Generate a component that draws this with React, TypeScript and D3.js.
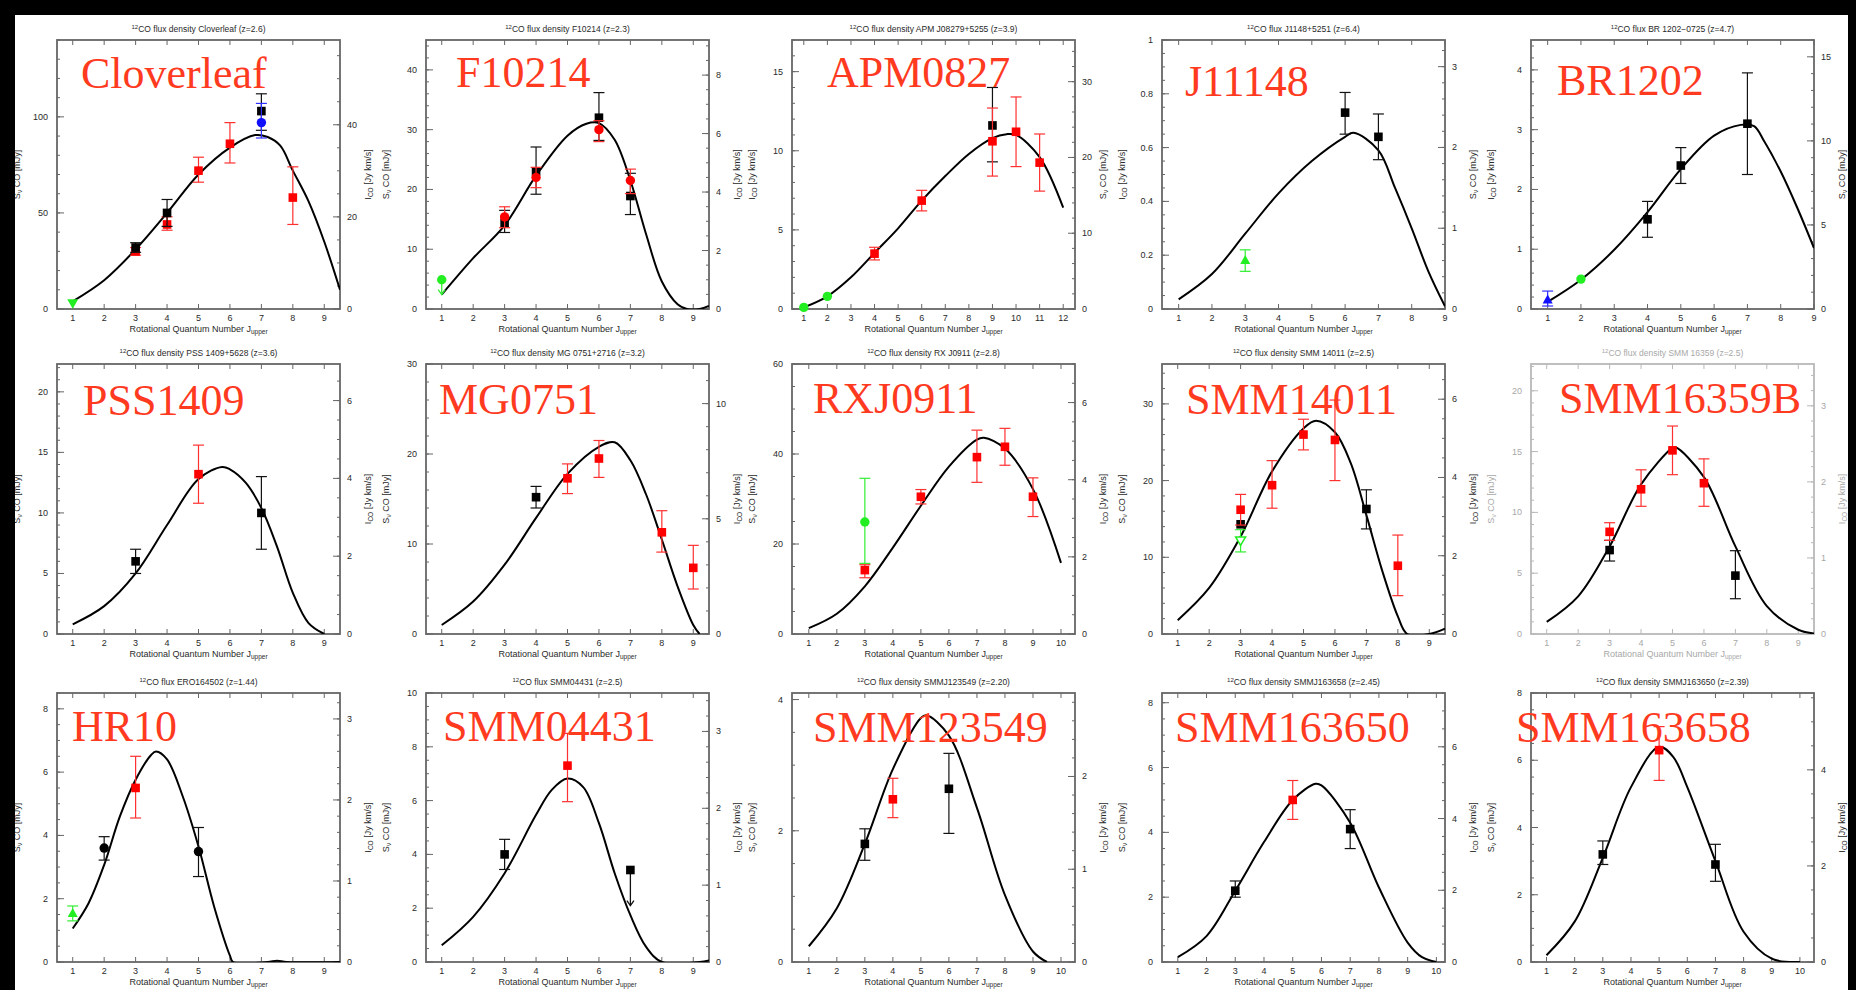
import React, { useEffect } from 'react';
import * as d3 from 'd3';

type Pt = number[]; // [J, value, lo, hi]

// ---------------- data ----------------
// 1 Cloverleaf
const cloverleafModel: Pt[] = [[1,4],[2,15],[3,31],[4,50],[5,70],[6,84],[6.8,90.5],[7.2,89.5],[7.6,85],[8,72],[8.5,56],[9,35],[9.5,10]];
const cloverleafRed: Pt[] = [[3,30,28,32],[4,44,41,48],[5,72,66,79],[6,86,76,97],[8,58,44,74]];
const cloverleafBlack: Pt[] = [[3,32,29.5,34.5],[4,50,43,57],[7,103,93,112]];
const cloverleafBlue: Pt[] = [[7,97,89,107]];
const cloverleafGreen: Pt[] = [[1,3]];
// 2 F10214
const f10214Model: Pt[] = [[1,2.4],[2,8.5],[3,14],[4,22.3],[5,29],[5.6,31],[6,31.1],[6.5,28.3],[7,21.5],[7.5,12.5],[8,4.6],[8.5,0.8],[8.8,0],[9.2,0],[9.5,0.5]];
const f10214Black: Pt[] = [[3,14.4,12.8,16.5],[4,23,19.2,27.1],[6,32,28.2,36.2],[7,18.9,15.8,22.7]];
const f10214Red: Pt[] = [[3,15.4,13.6,17.1],[4,22,20.3,23.7],[6,30,28,31.5],[7,21.5,19.3,23.4]];
const f10214GreenLimit: Pt[] = [[1,4.9,2.4]];
// 3 APM0827
const apm0827Model: Pt[] = [[1,0.1],[2,0.8],[3,2],[4,3.55],[5,5.1],[6,6.85],[7,8.4],[8,9.8],[9,10.8],[9.6,11.05],[10,11],[11,9.6],[12,6.4]];
const apm0827Black: Pt[] = [[9,11.6,9.3,14]];
const apm0827Red: Pt[] = [[4,3.5,3.1,3.9],[6,6.85,6.2,7.5],[9,10.6,8.4,12.7],[10,11.2,9,13.4],[11,9.25,7.45,11.06]];
const apm0827Green: Pt[] = [[1,0.1],[2,0.8]];
// 4 J11148
const j11148Model: Pt[] = [[1,0.036],[2,0.13],[3,0.28],[4,0.43],[5,0.55],[6,0.64],[6.25,0.655],[7,0.59],[7.5,0.45],[8,0.3],[8.5,0.14],[9,0.01]];
const j11148Black: Pt[] = [[6,0.73,0.65,0.805],[7,0.64,0.555,0.725]];
const j11148Green: Pt[] = [[3,0.18,0.14,0.22]];
// 5 BR1202
const br1202Model: Pt[] = [[1,0.12],[2,0.49],[3,0.99],[4,1.62],[5,2.34],[6,2.9],[6.8,3.08],[7.2,3.06],[7.5,2.81],[8,2.3],[8.5,1.69],[9,1.02]];
const br1202Black: Pt[] = [[4,1.5,1.2,1.8],[5,2.4,2.1,2.7],[7,3.1,2.25,3.95]];
const br1202Green: Pt[] = [[2,0.5]];
const br1202Blue: Pt[] = [[1,0.15,0.05,0.3]];
// 6 PSS1409
const pss1409Model: Pt[] = [[1,0.8],[2,2.3],[3,5],[4,9],[5,12.8],[5.75,13.8],[6,13.6],[6.5,12.5],[7,10.4],[7.5,7.2],[8,3.4],[8.5,0.9],[9,0]];
const pss1409Black: Pt[] = [[3,6,5,7],[7,10,7,13]];
const pss1409Red: Pt[] = [[5,13.2,10.8,15.6]];
// 7 MG0751
const mg0751Model: Pt[] = [[1,1],[2,3.6],[3,7.7],[4,12.9],[5,17.8],[6,20.8],[6.5,21.3],[7,19.3],[7.5,15.5],[8,10.5],[8.5,5.3],[9,1],[9.2,0]];
const mg0751Black: Pt[] = [[4,15.2,14,16.4]];
const mg0751Red: Pt[] = [[5,17.3,15.6,18.9],[6,19.5,17.4,21.5],[8,11.3,9.1,13.7],[9,7.35,5,9.85]];
// 8 RXJ0911
const rxj0911Model: Pt[] = [[1,1.3],[2,4.5],[3,10.6],[4,19.2],[5,28.5],[6,37.2],[7,43.2],[7.25,43.6],[8,41.2],[9,32.2],[10,15.8]];
const rxj0911Red: Pt[] = [[3,14.2,12.5,15.4],[5,30.5,28.9,32.1],[7,39.3,33.7,45.3],[8,41.6,37.5,45.7],[9,30.5,26.1,34.7]];
const rxj0911Green: Pt[] = [[3,24.9,15.7,34.6]];
// 9 SMM14011
const smm14011Model: Pt[] = [[1,1.8],[2,6],[3,12.7],[4,21.2],[5,26.8],[5.4,27.8],[6,26.3],[6.5,22.3],[7,15.5],[7.5,8.3],[8,2.3],[8.3,0],[9,0],[9.5,0.7]];
const smm14011Black: Pt[] = [[3,14.3],[7,16.3,13.7,18.8]];
const smm14011Red: Pt[] = [[3,16.2,14.2,18.2],[4,19.4,16.4,22.6],[5,26,24,28],[6,25.3,20,30.5],[8,8.9,5,12.9]];
const smm14011Green: Pt[] = [[3,12.2,10.7,13.6]];
// 10 SMM16359B
const smm16359Model: Pt[] = [[1,1],[2,3.1],[3,7.2],[4,12.3],[5,15.3],[5.1,15.35],[6,12.9],[7,7.2],[8,2.3],[9,0.35],[9.5,0.05]];
const smm16359Black: Pt[] = [[3,6.9,6,7.7],[7,4.8,2.9,6.85]];
const smm16359Red: Pt[] = [[3,8.4,7.7,9.15],[4,11.9,10.5,13.5],[5,15.1,13.1,17.1],[6,12.4,10.5,14.4]];
// 11 HR10
const hr10Model: Pt[] = [[1,1.06],[1.5,1.85],[2,3.07],[2.5,4.6],[3,5.76],[3.5,6.55],[3.65,6.65],[4,6.4],[4.5,5.23],[5,3.65],[5.5,1.74],[6,0.2],[6.1,0],[7.2,0],[7.5,0.04],[7.8,0],[9.5,0]];
const hr10Black: Pt[] = [[2,3.6,3.22,3.96],[5,3.49,2.7,4.25]];
const hr10Red: Pt[] = [[3,5.5,4.55,6.5]];
const hr10Green: Pt[] = [[1,1.53,1.3,1.77]];
// 12 SMM04431
const smm04431Model: Pt[] = [[1,0.62],[2,1.68],[3,3.3],[4,5.47],[4.5,6.4],[5,6.82],[5.5,6.5],[6,5.16],[6.5,3.3],[7,1.74],[7.5,0.56],[8,0],[9.2,0],[9.5,0.06]];
const smm04431Black: Pt[] = [[3,4,3.44,4.56]];
const smm04431BlackLimit: Pt[] = [[7,3.42,2.1]];
const smm04431Red: Pt[] = [[5,7.3,5.96,8.5]];
// 13 SMM123549
const smm123549Model: Pt[] = [[1,0.24],[2,0.82],[3,1.8],[4,2.94],[5,3.72],[5.2,3.76],[6,3.45],[7,2.35],[8,1.02],[9,0.16],[9.5,0]];
const smm123549Black: Pt[] = [[3,1.8,1.55,2.03],[6,2.64,1.96,3.18]];
const smm123549Red: Pt[] = [[4,2.48,2.2,2.8]];
// 14 SMM163650
const smm163650Model: Pt[] = [[1,0.15],[2,0.8],[3,2.2],[4,3.7],[5,5],[5.8,5.5],[6,5.45],[7,4.3],[8,2.3],[9,0.6],[9.5,0.15],[10,0]];
const smm163650Black: Pt[] = [[3,2.2,2,2.5],[7,4.1,3.5,4.7]];
const smm163650Red: Pt[] = [[5,5,4.4,5.6]];
// 15 SMM163658
const smm163658Model: Pt[] = [[1,0.2],[2,1.2],[3,3.1],[4,5.2],[5,6.4],[5.5,6.1],[6,5.2],[7,3],[8,0.9],[9,0.1],[10,0]];
const smm163658Black: Pt[] = [[3,3.2,2.9,3.6],[7,2.9,2.4,3.5]];
const smm163658Red: Pt[] = [[5,6.3,5.4,7]];

// names, titles, axes: [max, major, minor]
const labels = ['Cloverleaf','F10214','APM0827','J11148','BR1202','PSS1409','MG0751','RXJ0911','SMM14011','SMM16359B','HR10','SMM04431','SMM123549','SMM163650','SMM163658'];
const titles = ['CO flux density Cloverleaf (z=2.6)','CO flux density F10214 (z=2.3)','CO flux density APM J08279+5255 (z=3.9)','CO flux J1148+5251 (z=6.4)','CO flux BR 1202\u22120725 (z=4.7)','CO flux density PSS 1409+5628 (z=3.6)','CO flux density MG 0751+2716 (z=3.2)','CO flux density RX J0911 (z=2.8)','CO flux density SMM 14011 (z=2.5)','CO flux density SMM 16359 (z=2.5)','CO flux ERO164502 (z=1.44)','CO flux SMM04431 (z=2.5)','CO flux density SMMJ123549 (z=2.20)','CO flux density SMMJ163658 (z=2.45)','CO flux density SMMJ163650 (z=2.39)'];
const leftUnits = ['S','S','I','I','I','S','S','S','S','S','S','S','S','S','S'];
const xMax = [9.5,9.5,12.5,9,9,9.5,9.5,10.5,9.5,9.5,9.5,9.5,10.5,10.3,10.5];
const xMin = [0.5,0.5,0.5,0.5,0.5,0.5,0.5,0.4,0.5,0.5,0.5,0.5,0.4,0.45,0.45];
const leftAxes = [[140,50,10],[45,10,2],[17,5,1],[1,0.2,0.05],[4.5,1,0.2],[22.3,5,1],[30,10,2],[60,20,5],[35.2,10,2],[22.2,5,1],[8.5,2,0.5],[10,2,0.5],[4.1,2,0.5],[8.3,2,0.5],[8,2,0.5]];
const rightAxes = [[58.4,20,5],[9.2,2,0.5],[35.5,10,2],[3.33,1,0.2],[16,5,1],[6.94,2,0.5],[11.72,5,1],[7,2,0.5],[6.9,2,0.5],[3.55,1,0.2],[3.32,1,0.2],[3.5,1,0.2],[2.9,1,0.2],[7.5,2,0.5],[5.6,2,0.5]];

type Series = { kind: string; shape: string; pts: Pt[]; limit?: boolean };
const models = [cloverleafModel,f10214Model,apm0827Model,j11148Model,br1202Model,pss1409Model,mg0751Model,rxj0911Model,smm14011Model,smm16359Model,hr10Model,smm04431Model,smm123549Model,smm163650Model,smm163658Model];
const seriesList: Series[][] = [
  [{kind:'g',shape:'td',pts:cloverleafGreen},{kind:'r',shape:'sq',pts:cloverleafRed},{kind:'k',shape:'sq',pts:cloverleafBlack},{kind:'b',shape:'ci',pts:cloverleafBlue}],
  [{kind:'g',shape:'ci',pts:f10214GreenLimit,limit:true},{kind:'k',shape:'sq',pts:f10214Black},{kind:'r',shape:'ci',pts:f10214Red}],
  [{kind:'g',shape:'ci',pts:apm0827Green},{kind:'k',shape:'sq',pts:apm0827Black},{kind:'r',shape:'sq',pts:apm0827Red}],
  [{kind:'k',shape:'sq',pts:j11148Black},{kind:'g',shape:'tu',pts:j11148Green}],
  [{kind:'b',shape:'tu',pts:br1202Blue},{kind:'g',shape:'ci',pts:br1202Green},{kind:'k',shape:'sq',pts:br1202Black}],
  [{kind:'k',shape:'sq',pts:pss1409Black},{kind:'r',shape:'sq',pts:pss1409Red}],
  [{kind:'k',shape:'sq',pts:mg0751Black},{kind:'r',shape:'sq',pts:mg0751Red}],
  [{kind:'g',shape:'ci',pts:rxj0911Green},{kind:'r',shape:'sq',pts:rxj0911Red}],
  [{kind:'g',shape:'tdo',pts:smm14011Green},{kind:'k',shape:'sq',pts:smm14011Black},{kind:'r',shape:'sq',pts:smm14011Red}],
  [{kind:'k',shape:'sq',pts:smm16359Black},{kind:'r',shape:'sq',pts:smm16359Red}],
  [{kind:'g',shape:'tu',pts:hr10Green},{kind:'k',shape:'ci',pts:hr10Black},{kind:'r',shape:'sq',pts:hr10Red}],
  [{kind:'k',shape:'sq',pts:smm04431Black},{kind:'k',shape:'sq',pts:smm04431BlackLimit,limit:true},{kind:'r',shape:'sq',pts:smm04431Red}],
  [{kind:'k',shape:'sq',pts:smm123549Black},{kind:'r',shape:'sq',pts:smm123549Red}],
  [{kind:'k',shape:'sq',pts:smm163650Black},{kind:'r',shape:'sq',pts:smm163650Red}],
  [{kind:'k',shape:'sq',pts:smm163658Black},{kind:'r',shape:'sq',pts:smm163658Red}],
];

// ---------------- layout ----------------
const W = 1856, H = 990;
const colLeft = [57, 426, 792, 1162, 1531];
const frameW = 283;
const rowTop = [40, 364, 693];
const rowBottom = [309, 634, 962];
const labelOffset = [[24,48],[30,47],[35,47],[23,56],[26,55],[26,51],[13,50],[21,49],[24,50],[28,49],[15,48],[17,48],[21,49],[13,49],[-15,49]];
const colors: Record<string,string> = { k: '#000000', r: '#ff0000', g: '#22ee22', b: '#1010ff' };
const errColors: Record<string,string> = { k: '#111111', r: '#ff3030', g: '#33ee33', b: '#3030ff' };

const fmt = (v: number) => String(+v.toFixed(3));
const steps = (max: number, step: number) => d3.range(0, max + step * 1e-6, step);

function Marker({ shape, cx, cy, color }: any) {
  const s = 4.3;
  if (shape === 'sq') return <rect x={cx - s} y={cy - s} width={2 * s} height={2 * s} fill={color} />;
  if (shape === 'ci') return <circle cx={cx} cy={cy} r={4.7} fill={color} />;
  if (shape === 'tu') return <path d={`M${cx},${cy - 5.5}L${cx + 5},${cy + 3.5}L${cx - 5},${cy + 3.5}Z`} fill={color} />;
  if (shape === 'td') return <path d={`M${cx},${cy + 5.5}L${cx + 5.5},${cy - 4}L${cx - 5.5},${cy - 4}Z`} fill={color} />;
  return <path d={`M${cx},${cy + 5}L${cx + 5},${cy - 3.5}L${cx - 5},${cy - 3.5}Z`} fill="#ffffff" stroke={color} strokeWidth={1.5} />;
}

function UnitLabel({ unit, x, y, fill }: any) {
  return (
    <text transform={`translate(${x},${y}) rotate(-90)`} textAnchor="middle" fontSize={9} fill={fill} fontFamily="Liberation Sans, Arial, sans-serif">
      {unit === 'S' ? (
        <>S<tspan fontSize={6.5} dy={2}>{'\u03bd'}</tspan><tspan dy={-2}> CO [mJy]</tspan></>
      ) : (
        <>I<tspan fontSize={6.5} dy={2}>CO</tspan><tspan dy={-2}> [Jy km/s]</tspan></>
      )}
    </text>
  );
}

function Panel({ i }: { i: number }) {
  const col = i % 5, row = Math.floor(i / 5);
  const left = colLeft[col], right = left + frameW;
  const top = rowTop[row], bottom = rowBottom[row];
  const faint = i === 9;
  const axisCol = faint ? '#b8b8b8' : '#666666';
  const textCol = faint ? '#a8a8a8' : '#2a2a2a';
  const x = d3.scaleLinear().domain([xMin[i], xMax[i]]).range([left, right]);
  const [lMax, lMaj, lMin] = leftAxes[i];
  const [rMax, rMaj, rMin] = rightAxes[i];
  const yl = d3.scaleLinear().domain([0, lMax]).range([bottom, top]);
  const yr = d3.scaleLinear().domain([0, rMax]).range([bottom, top]);
  const xt = d3.range(Math.ceil(xMin[i]), Math.floor(xMax[i]) + 0.001, 1);
  const line = d3.line<Pt>().x(d => x(d[0])).y(d => yl(d[1])).curve(d3.curveCatmullRom.alpha(0.5));
  const clipId = `clip${i}`;
  const cx = (left + right) / 2, cy = (top + bottom) / 2;
  const font = 'Liberation Sans, Arial, sans-serif';
  const tk = 5, tm = 3;
  return (
    <g>
      <defs>
        <clipPath id={clipId}><rect x={left} y={top} width={right - left} height={bottom - top} /></clipPath>
      </defs>
      <g stroke={axisCol} strokeWidth={1}>
        {xt.map(t => (
          <g key={'x' + t}>
            <line x1={x(t)} x2={x(t)} y1={bottom} y2={bottom - tk} />
            <line x1={x(t)} x2={x(t)} y1={top} y2={top + tk} />
          </g>
        ))}
        {steps(lMax, lMin).map((t, k) => <line key={'lm' + k} x1={left} x2={left + tm} y1={yl(t)} y2={yl(t)} />)}
        {steps(lMax, lMaj).map((t, k) => <line key={'lM' + k} x1={left} x2={left + tk + 2} y1={yl(t)} y2={yl(t)} />)}
        {steps(rMax, rMin).map((t, k) => <line key={'rm' + k} x1={right} x2={right - tm} y1={yr(t)} y2={yr(t)} />)}
        {steps(rMax, rMaj).map((t, k) => <line key={'rM' + k} x1={right} x2={right - tk - 2} y1={yr(t)} y2={yr(t)} />)}
      </g>
      <rect x={left} y={top} width={right - left} height={bottom - top} fill="none" stroke={axisCol} strokeWidth={1.8} />
      <g fontFamily={font} fontSize={9} fill={textCol}>
        {xt.map(t => <text key={'xl' + t} x={x(t)} y={bottom + 12} textAnchor="middle">{fmt(t)}</text>)}
        {steps(lMax, lMaj).map((t, k) => <text key={'ll' + k} x={left - 9} y={yl(t) + 3} textAnchor="end">{fmt(t)}</text>)}
        {steps(rMax, rMaj).map((t, k) => <text key={'rl' + k} x={right + 7} y={yr(t) + 3} textAnchor="start">{fmt(t)}</text>)}
      </g>
      <text x={cx} y={top - 8} textAnchor="middle" fontFamily={font} fontSize={8.5} fill={textCol}>
        <tspan fontSize={6} dy={-3}>12</tspan><tspan dy={3}>{titles[i]}</tspan>
      </text>
      <text x={cx} y={bottom + 23} textAnchor="middle" fontFamily={font} fontSize={9} fill={textCol}>
        Rotational Quantum Number J<tspan fontSize={6.5} dy={2}>upper</tspan>
      </text>
      <UnitLabel unit={leftUnits[i]} x={left - 37} y={cy} fill={textCol} />
      <UnitLabel unit={leftUnits[i] === 'S' ? 'I' : 'S'} x={right + 31} y={cy} fill={textCol} />
      <path d={line(models[i]) || ''} fill="none" stroke="#000" strokeWidth={2} clipPath={`url(#${clipId})`} />
      {seriesList[i].map((s, si) => (
        <g key={'s' + si}>
          {s.pts.map((p, pi) => {
            const px = x(p[0]), py = yl(p[1]);
            const ec = errColors[s.kind];
            if (s.limit) {
              const ly = yl(p[2]);
              return (
                <g key={pi} stroke={ec} strokeWidth={1.3} fill="none">
                  <line x1={px} x2={px} y1={py} y2={ly} />
                  <path d={`M${px - 3.5},${ly - 5}L${px},${ly}L${px + 3.5},${ly - 5}`} />
                </g>
              );
            }
            if (p.length < 4) return null;
            const lo = yl(p[2]), hi = yl(p[3]);
            return (
              <g key={pi} stroke={ec} strokeWidth={1.2}>
                <line x1={px} x2={px} y1={lo} y2={hi} />
                <line x1={px - 5.5} x2={px + 5.5} y1={lo} y2={lo} />
                <line x1={px - 5.5} x2={px + 5.5} y1={hi} y2={hi} />
              </g>
            );
          })}
          {s.pts.map((p, pi) => <Marker key={'m' + pi} shape={s.shape} cx={x(p[0])} cy={yl(p[1])} color={colors[s.kind]} />)}
        </g>
      ))}
      <text x={left + labelOffset[i][0]} y={top + labelOffset[i][1]} fontFamily="Liberation Serif, Times New Roman, serif" fontSize={44} fill="#ff3a1f">{labels[i]}</text>
    </g>
  );
}

export default function App() {
  useEffect(() => { document.body.style.margin = '0'; }, []);
  return (
    <svg width={W} height={H} viewBox={`0 0 ${W} ${H}`} style={{ display: 'block', position: 'absolute', left: 0, top: 0, background: '#fff' }}>
      <rect x={0} y={0} width={W} height={H} fill="#ffffff" />
      {labels.map((_, i) => <Panel key={i} i={i} />)}
      <rect x={0} y={0} width={W} height={15} fill="#000" />
      <rect x={0} y={0} width={15} height={H} fill="#000" />
      <rect x={1848} y={0} width={8} height={H} fill="#000" />
    </svg>
  );
}
